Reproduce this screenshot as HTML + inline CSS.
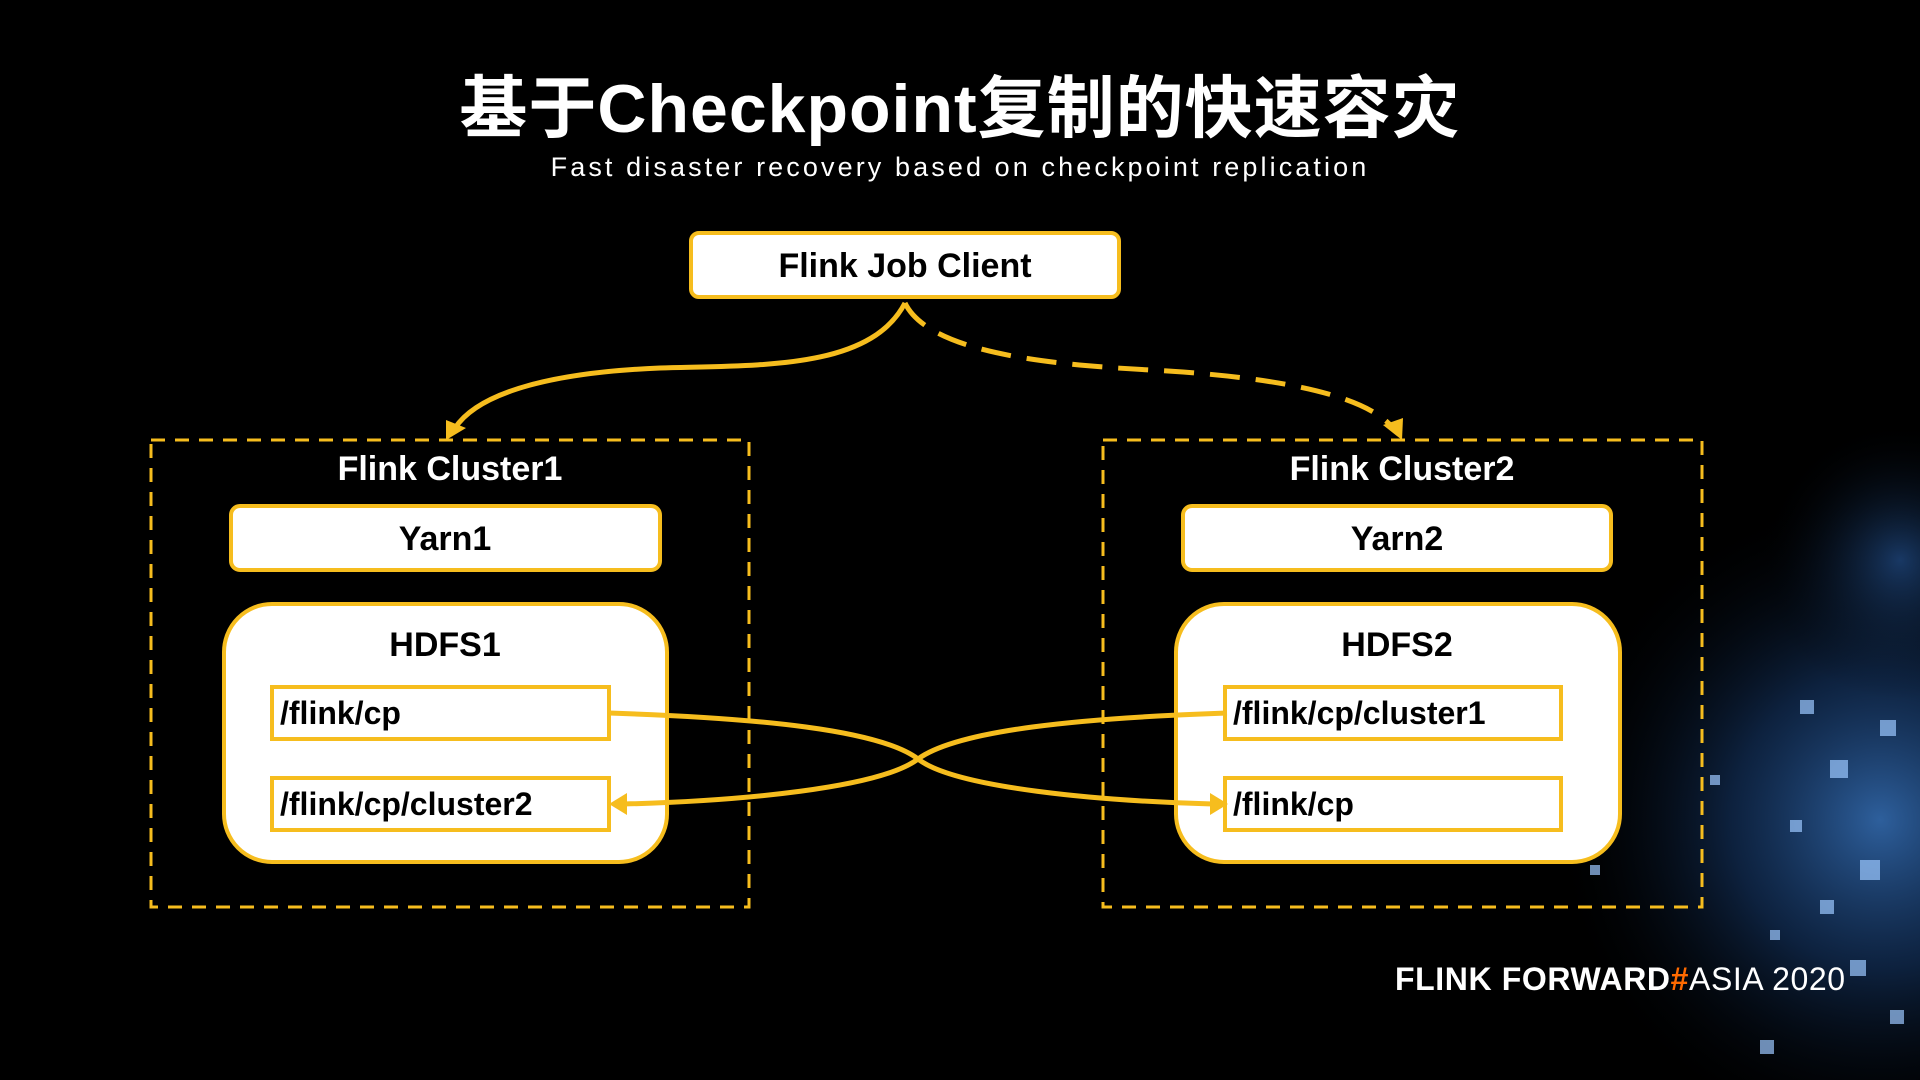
<!DOCTYPE html>
<html><head><meta charset="utf-8"><style>
html,body{margin:0;padding:0;background:#000;}
body{width:1920px;height:1080px;overflow:hidden;position:relative;font-family:"Liberation Sans","Noto Sans CJK SC",sans-serif;}
svg{position:absolute;left:0;top:0;}
</style></head><body>
<svg width="1920" height="1080" viewBox="0 0 1920 1080" xmlns="http://www.w3.org/2000/svg">
<defs>
<radialGradient id="g1" cx="1880" cy="820" r="330" gradientUnits="userSpaceOnUse">
<stop offset="0" stop-color="#3d7fd0" stop-opacity="0.75"/>
<stop offset="0.45" stop-color="#1d4a8a" stop-opacity="0.45"/>
<stop offset="1" stop-color="#000" stop-opacity="0"/>
</radialGradient>
<radialGradient id="g2" cx="1900" cy="560" r="140" gradientUnits="userSpaceOnUse">
<stop offset="0" stop-color="#2f6cc0" stop-opacity="0.5"/>
<stop offset="1" stop-color="#000" stop-opacity="0"/>
</radialGradient>
</defs>
<rect width="1920" height="1080" fill="#000"/>
<rect width="1920" height="1080" fill="url(#g1)"/>
<rect width="1920" height="1080" fill="url(#g2)"/>
<g fill="#9cc8ff" opacity="0.7">
<rect x="1800" y="700" width="14" height="14"/><rect x="1830" y="760" width="18" height="18"/><rect x="1790" y="820" width="12" height="12"/>
<rect x="1860" y="860" width="20" height="20"/><rect x="1820" y="900" width="14" height="14"/><rect x="1880" y="720" width="16" height="16"/>
<rect x="1770" y="930" width="10" height="10"/><rect x="1850" y="960" width="16" height="16"/><rect x="1590" y="865" width="10" height="10"/>
<rect x="1710" y="775" width="10" height="10"/><rect x="1890" y="1010" width="14" height="14"/><rect x="1760" y="1040" width="14" height="14"/>
</g>

<text x="960" y="132" text-anchor="middle" fill="#fff" font-size="68" font-weight="bold" letter-spacing="1" font-family="Liberation Sans,Noto Sans CJK SC,sans-serif">基于Checkpoint复制的快速容灾</text>
<text x="960" y="176" text-anchor="middle" fill="#fff" font-size="27" letter-spacing="3.1" font-family="Liberation Sans,sans-serif">Fast disaster recovery based on checkpoint replication</text>

<g fill="none" stroke="#f6bd1e">
<rect x="151" y="440" width="598" height="467" stroke-width="3" stroke-dasharray="14 10"/>
<rect x="1103" y="440" width="599" height="467" stroke-width="3" stroke-dasharray="14 10"/>
</g>

<rect x="691" y="233" width="428" height="64" rx="8" fill="#fff" stroke="#f6bd1e" stroke-width="4"/>
<text x="905" y="277" text-anchor="middle" font-size="34" font-weight="bold" fill="#000">Flink Job Client</text>

<text x="450" y="480" text-anchor="middle" font-size="34" font-weight="bold" fill="#fff">Flink Cluster1</text>
<text x="1402" y="480" text-anchor="middle" font-size="34" font-weight="bold" fill="#fff">Flink Cluster2</text>

<rect x="231" y="506" width="429" height="64" rx="9" fill="#fff" stroke="#f6bd1e" stroke-width="4"/>
<text x="445" y="550" text-anchor="middle" font-size="34" font-weight="bold" fill="#000">Yarn1</text>
<rect x="1183" y="506" width="428" height="64" rx="9" fill="#fff" stroke="#f6bd1e" stroke-width="4"/>
<text x="1397" y="550" text-anchor="middle" font-size="34" font-weight="bold" fill="#000">Yarn2</text>

<rect x="224" y="604" width="443" height="258" rx="48" fill="#fff" stroke="#f6bd1e" stroke-width="4"/>
<text x="445" y="656" text-anchor="middle" font-size="34" font-weight="bold" fill="#000">HDFS1</text>
<rect x="1176" y="604" width="444" height="258" rx="48" fill="#fff" stroke="#f6bd1e" stroke-width="4"/>
<text x="1397" y="656" text-anchor="middle" font-size="34" font-weight="bold" fill="#000">HDFS2</text>

<g fill="#fff" stroke="#f6bd1e" stroke-width="4">
<rect x="272" y="687" width="337" height="52"/>
<rect x="272" y="778" width="337" height="52"/>
<rect x="1225" y="687" width="336" height="52"/>
<rect x="1225" y="778" width="336" height="52"/>
</g>
<g font-size="32" font-weight="bold" fill="#000">
<text x="280" y="724">/flink/cp</text>
<text x="280" y="815">/flink/cp/cluster2</text>
<text x="1233" y="724">/flink/cp/cluster1</text>
<text x="1233" y="815">/flink/cp</text>
</g>

<g fill="none" stroke="#f6bd1e" stroke-width="5">
<path d="M905 303 C870 370 760 365 660 368 C560 372 480 390 455 428"/>
<path d="M905 303 C930 355 1060 365 1150 370 C1300 378 1370 400 1393 428" stroke-dasharray="30 16"/>
<path d="M609 713 C760 718 880 730 918 759 C955 788 1100 801 1213 804"/>
<path d="M1227 713 C1080 718 958 730 918 759 C880 788 740 801 624 804"/>
</g>
<g fill="#f6bd1e">
<polygon points="446,440 446,420 466,428"/>
<polygon points="1402,440 1383,425 1403,418"/>
<polygon points="1228,804 1210,793 1210,815"/>
<polygon points="609,804 627,793 627,815"/>
</g>

<text x="1395" y="990" font-size="32" font-weight="bold" fill="#fff" letter-spacing="0.6">FLINK FORWARD<tspan fill="#ff6a00">#</tspan><tspan font-weight="normal">ASIA 2020</tspan></text>
</svg>
</body></html>
